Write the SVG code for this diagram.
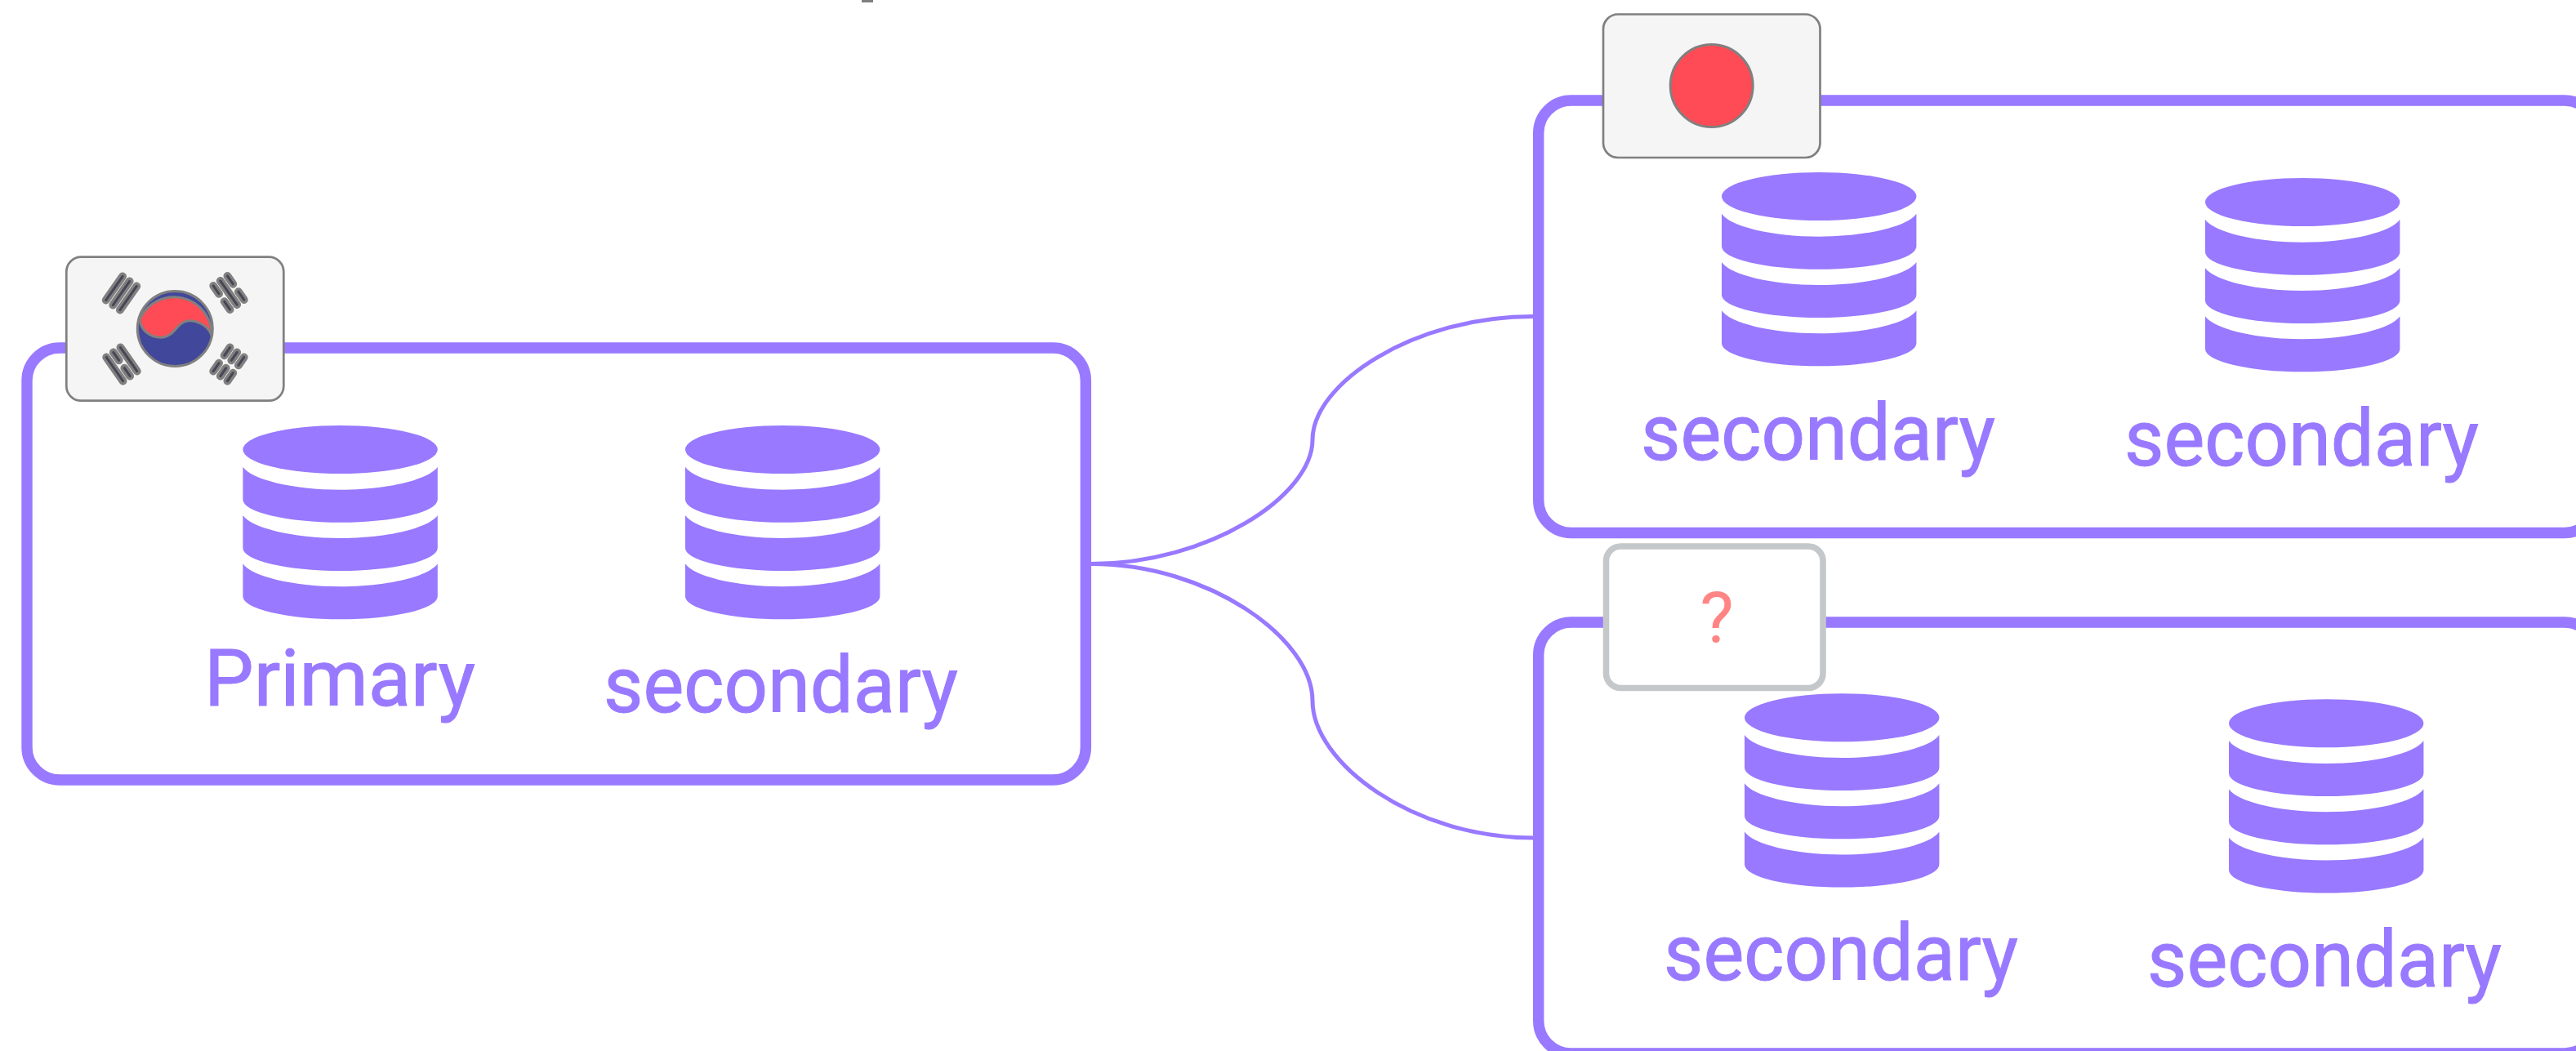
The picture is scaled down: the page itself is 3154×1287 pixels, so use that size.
<svg xmlns="http://www.w3.org/2000/svg" xmlns:xlink="http://www.w3.org/1999/xlink" width="3154" height="1287" viewBox="0 0 3154 1287">
<style>
.box{fill:#fff;stroke:#9879ff;stroke-width:13.4}
.conn{fill:none;stroke:#9879ff;stroke-width:5}
.db{fill:#9879ff}
.lbl{font-family:Roboto,"Noto Sans",sans-serif;font-size:96px;fill:#9879ff;stroke:#9879ff;stroke-width:1}
.flag{fill:#f5f5f5;stroke:#808080;stroke-width:2.7}
.emb{stroke:#808080;stroke-width:3}
.bar{fill:#464655;stroke:#808080;stroke-width:3.4}
.unk{fill:#fff;stroke:#c4c8cb;stroke-width:7.6}
.q{font-family:Roboto,"Noto Sans",sans-serif;font-size:88px;fill:#ff8585;text-anchor:middle}
</style>
<defs>
<g id="db">
<ellipse class="db" cx="119.2" cy="29.5" rx="119.2" ry="29.5"/>
<path class="db" d="M0 50.7C10 65.7 60 78.7 119.2 78.7S228.4 65.7 238.4 50.7V90.7A119.2 28 0 0 1 0 90.7Z"/>
<path class="db" d="M0 110C10 125 60 138 119.2 138S228.4 125 238.4 110V150A119.2 28 0 0 1 0 150Z"/>
<path class="db" d="M0 169.3C10 184.3 60 197.3 119.2 197.3S228.4 184.3 238.4 169.3V209.3A119.2 28 0 0 1 0 209.3Z"/>
</g>
<rect id="s" class="bar" x="-3.2" y="-21" width="6.4" height="42" rx="3.2"/>
<g id="b"><rect class="bar" x="-3.2" y="-21" width="6.4" height="18.5" rx="3.2"/><rect class="bar" x="-3.2" y="2.5" width="6.4" height="18.5" rx="3.2"/></g>
</defs>
<rect x="1055" y="0" width="14" height="3" fill="#808080"/>
<g id="connectors">
<path class="conn" d="M1336 690.5C1480 690.5 1607 607 1607 538.5C1607 470 1730 387.5 1877 387.5"/>
<path class="conn" d="M1336 690.5C1480 690.5 1607 782 1607 858C1607 934 1730 1026 1877 1026"/>
</g>
<g id="node-korea">
<rect class="box" x="33" y="426" width="1296.4" height="529" rx="40"/>
<rect class="flag" x="81.3" y="314.7" width="266" height="176" rx="18"/>
<g id="taegeuk">
<circle cx="214.3" cy="402.5" r="46" fill="#41479b" class="emb"/>
<path fill="#ff4b55" class="emb" d="M171 391A46 46 0 0 1 259 411C255 398 240 392 231 392.7C216 394 214 413 197 413.3C181 413 172 402 171 391Z"/>
</g>
<g transform="translate(148.5 359) rotate(35)"><use xlink:href="#s" href="#s" x="-10.5"/><use xlink:href="#s" href="#s"/><use xlink:href="#s" href="#s" x="10.5"/></g>
<g transform="translate(280 358.5) rotate(-35)"><use xlink:href="#b" href="#b" x="-10.5"/><use xlink:href="#s" href="#s"/><use xlink:href="#b" href="#b" x="10.5"/></g>
<g transform="translate(149 446) rotate(-35)"><use xlink:href="#s" href="#s" x="-10.5"/><use xlink:href="#b" href="#b"/><use xlink:href="#s" href="#s" x="10.5"/></g>
<g transform="translate(280 446) rotate(35)"><use xlink:href="#b" href="#b" x="-10.5"/><use xlink:href="#b" href="#b"/><use xlink:href="#b" href="#b" x="10.5"/></g>
<use xlink:href="#db" href="#db" x="297.4" y="521"/>
<text class="lbl" x="250" y="864.3" textLength="332" lengthAdjust="spacingAndGlyphs">Primary</text>
<use xlink:href="#db" href="#db" x="839" y="521"/>
<text class="lbl" x="739" y="872.3" textLength="434" lengthAdjust="spacingAndGlyphs">secondary</text>
</g>
<g id="node-japan">
<rect class="box" x="1883.7" y="123" width="1296.4" height="529.5" rx="40"/>
<rect class="flag" x="1963" y="17.5" width="265.5" height="175.5" rx="18"/>
<circle cx="2095.7" cy="105" r="50.5" fill="#ff4b55" class="emb"/>
<use xlink:href="#db" href="#db" x="2108" y="211"/>
<text class="lbl" x="2009" y="563" textLength="434" lengthAdjust="spacingAndGlyphs">secondary</text>
<use xlink:href="#db" href="#db" x="2700" y="218"/>
<text class="lbl" x="2601" y="570" textLength="434" lengthAdjust="spacingAndGlyphs">secondary</text>
</g>
<g id="node-unknown">
<rect class="box" x="1883.7" y="762" width="1296.4" height="528" rx="40"/>
<rect class="unk" x="1966.5" y="669" width="265.5" height="173.5" rx="18"/>
<text class="q" x="2102" y="786">?</text>
<use xlink:href="#db" href="#db" x="2136" y="849.3"/>
<text class="lbl" x="2037" y="1200" textLength="434" lengthAdjust="spacingAndGlyphs">secondary</text>
<use xlink:href="#db" href="#db" x="2729" y="856.3"/>
<text class="lbl" x="2629" y="1207.7" textLength="434" lengthAdjust="spacingAndGlyphs">secondary</text>
</g>
</svg>
